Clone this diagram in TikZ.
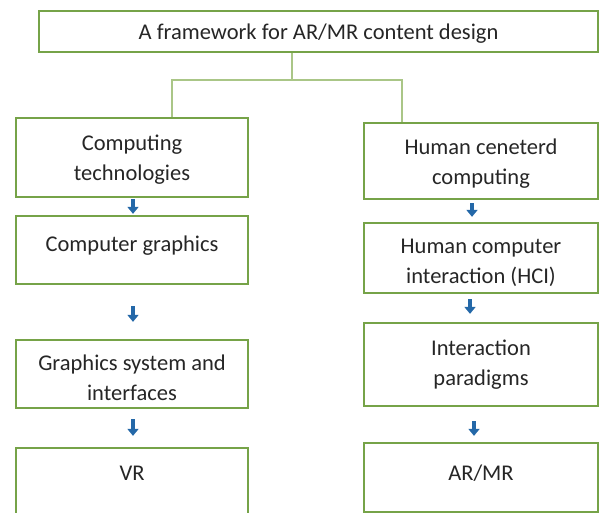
\documentclass[tikz,border=0pt]{standalone}
\usepackage{fontspec}
\setmainfont{Carlito}
\usetikzlibrary{arrows.meta}
\definecolor{boxgreen}{RGB}{118,163,72}
\definecolor{linegreen}{RGB}{170,198,135}
\definecolor{arrblue}{RGB}{36,104,168}
\definecolor{txt}{RGB}{38,38,38}
\tikzset{
  box/.style={draw=boxgreen, line width=2.3pt, fill=white, rectangle, inner sep=0pt},
  lbl/.style={inner sep=0pt, align=center, text=txt, font=\fontsize{22.5}{30}\selectfont},
  conn/.style={draw=linegreen, line width=1.5pt},
  darrow/.style={draw=arrblue, line width=4pt, -{Triangle[width=11pt,length=7pt]}},
}
\begin{document}
\begin{tikzpicture}[x=1pt,y=-1pt]
\useasboundingbox (0,0) rectangle (599,513);
\begin{scope}
\clip (0,0) rectangle (599,513);
\node[box, minimum width=559pt, minimum height=41pt] (T) at (318.5,31.5) {};
% left column
\node[box, minimum width=232pt, minimum height=79pt] (L1) at (132,157.5) {};
\node[box, minimum width=232pt, minimum height=68pt] (L2) at (132,250) {};
\node[box, minimum width=232pt, minimum height=68pt] (L3) at (132,374) {};
\node[box, minimum width=232pt, minimum height=82pt] (L4) at (132,489) {};
% right column
\node[box, minimum width=234pt, minimum height=76pt] (R1) at (481,161) {};
\node[box, minimum width=234pt, minimum height=70pt] (R2) at (481,258) {};
\node[box, minimum width=234pt, minimum height=83pt] (R3) at (481,364.5) {};
\node[box, minimum width=234pt, minimum height=69pt] (R4) at (481,477.5) {};
% texts
\node[lbl] (Tt) at ([yshift=-2pt]T.center) {A framework for AR/MR content design};
\node[lbl] (L1t) at ([yshift=-2pt]L1.center) {Computing\\technologies};
\node[lbl] (L2t) at ([yshift=4.5pt]L2.center) {Computer graphics};
\node[lbl] (L3t) at ([yshift=-4pt]L3.center) {Graphics system and\\interfaces};
\node[lbl] (L4t) at ([yshift=15.5pt]L4.center) {VR};
\node[lbl] (R1t) at ([yshift=-3pt]R1.center) {Human ceneterd\\computing};
\node[lbl] (R2t) at ([yshift=-5pt]R2.center) {Human computer\\interaction (HCI)};
\node[lbl] (R3t) at (R3.center) {Interaction\\paradigms};
\node[lbl] (R4t) at ([yshift=4pt]R4.center) {AR/MR};
% tree connectors
\coordinate (j) at (292,80);
\coordinate (jl) at (172,80);
\coordinate (jr) at (402,80);
\draw[conn] (j |- T.south) -- (j);
\draw[conn] (jl |- L1.north) -- (jl) -- (jr) -- (jr |- R1.north);
% arrows left
\draw[darrow, shorten <=1pt, shorten >=1pt] ([xshift=1pt]L1.south) -- ([xshift=1pt]L2.north);
\draw[darrow, shorten <=21pt, shorten >=17pt] ([xshift=1pt]L2.south) -- ([xshift=1pt]L3.north);
\draw[darrow, shorten <=10pt, shorten >=11pt] ([xshift=1pt]L3.south) -- ([xshift=1pt]L4.north);
% arrows right
\draw[darrow, shorten <=3pt, shorten >=5pt] ([xshift=-9pt]R1.south) -- ([xshift=-9pt]R2.north);
\draw[darrow, shorten <=5pt, shorten >=8pt] ([xshift=-11pt]R2.south) -- ([xshift=-11pt]R3.north);
\draw[darrow, shorten <=14pt, shorten >=6pt] ([xshift=-7pt]R3.south) -- ([xshift=-7pt]R4.north);
\end{scope}
\end{tikzpicture}
\end{document}
